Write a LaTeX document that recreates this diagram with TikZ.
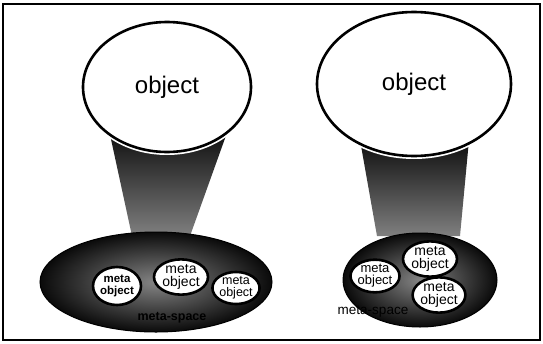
\documentclass[tikz,border=0pt]{standalone}
\usepackage{fontspec}
\setmainfont{Liberation Sans}
\usetikzlibrary{shapes.geometric}
\begin{document}
\begin{tikzpicture}[x=1pt,y=-1pt,
  objbox/.style={ellipse,draw=black,line width=2.6pt,fill=white,inner sep=0pt,
    font=\fontsize{24}{24}\selectfont},
  metabox/.style={ellipse,draw=black,line width=2.6pt,fill=white,inner sep=0pt,
    align=center,font=\fontsize{14}{13}\selectfont},
  halo/.style={draw=white,line width=6pt},
  spacebox/.style={ellipse,draw=black,line width=1pt,inner sep=0pt,
    inner color=black!48,outer color=black!96},
  cone/.style={top color=black!95,bottom color=black!50},
  spacelabel/.style={font=\fontsize{13.5}{13.5}\selectfont}]
\useasboundingbox (0,0) rectangle (543,343);
\fill[white] (0,0) rectangle (543,343);
% frame
\draw[line width=1.8pt] (3,4) rectangle (540,340);

% ---- left: one object, meta-space with three meta objects
\shade[cone] (109,130) -- (228,130) -- (190,236) -- (132,236) -- cycle;
\node[ellipse,halo,minimum width=168pt,minimum height=130pt] at (167,87) {};
\node[objbox,minimum width=168pt,minimum height=130pt] (objL) at (167,87) {object};
\node[spacebox,minimum width=232pt,minimum height=100pt] (spaceL) at (156,282) {};
\node[metabox,font=\bfseries\fontsize{11.5}{11.5}\selectfont,
  minimum width=48pt,minimum height=38pt] (mL1) at (117,286) {meta\\object};
\node[metabox,minimum width=54pt,minimum height=32pt] (mL2) at (181,277) {meta\\object};
\node[metabox,font=\fontsize{12.5}{12}\selectfont,
  minimum width=42pt,minimum height=30pt] (mL3) at (236,288) {meta\\object};
\node[spacelabel,font=\bfseries\fontsize{12.5}{12.5}\selectfont] (labL) at (172,318) {meta-space};

% ---- right: one object, meta-space with overlapping meta objects
\shade[cone] (360,140) -- (469,140) -- (460,236) -- (377,236) -- cycle;
\node[ellipse,halo,minimum width=194pt,minimum height=144pt] at (414,84) {};
\node[objbox,minimum width=194pt,minimum height=144pt] (objR) at (414,84) {object};
\node[spacebox,minimum width=154pt,minimum height=94pt] (spaceR) at (420,280) {};
\node[metabox,font=\fontsize{13}{12}\selectfont,
  minimum width=44pt,minimum height=32pt] (mR1) at (375,276) {meta\\object};
\node[metabox,minimum width=54pt,minimum height=28pt] (mR2) at (430,259) {meta\\object};
\node[metabox,minimum width=48pt,minimum height=34pt] (mR3) at (439,295) {meta\\object};
\node[spacelabel] (labR) at (373,312) {meta-space};
\end{tikzpicture}
\end{document}
